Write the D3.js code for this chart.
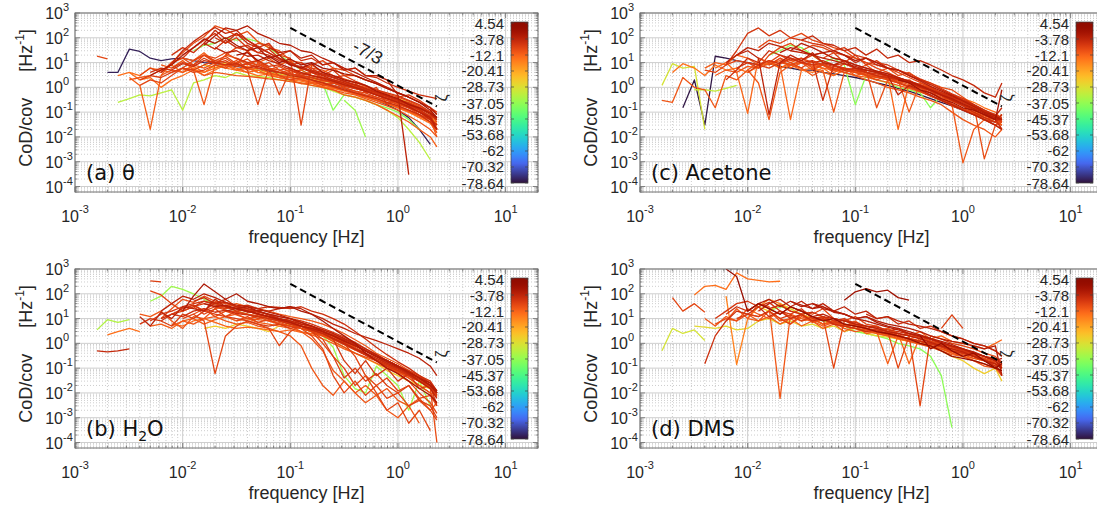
<!DOCTYPE html>
<html>
<head>
<meta charset="utf-8">
<script src="https://cdn.jsdelivr.net/npm/d3@7"></script>
<style>
  body { margin: 0; background: #fff; }
  svg { display: block; font-family: "Liberation Sans", Arial, sans-serif; }
</style>
</head>
<body>
<script>
// frequency bins [Hz], one value per bin, each spectrum starts at bin index "start"
var freqs = [0.0016,0.002,0.0025,0.0032,0.004,0.005,0.0063,0.0079,0.01,0.0126,0.0158,0.02,0.025,0.0316,0.04,0.05,0.063,0.079,0.1,0.126,0.158,0.2,0.25,0.316,0.4,0.5,0.63,0.79,1,1.26,1.58,2,2.3];

var zetaTicks = [4.54,-3.78,-12.1,-20.41,-28.73,-37.05,-45.37,-53.68,-62,-70.32,-78.64];
var xTickExp = [-3,-2,-1,0,1];
var yTickExp = [3,2,1,0,-1,-2,-3,-4];
var refFreq = [0.1, 2.3];
var refVal = [250, 0.17];

// (a) theta
var thetaStart = [6,7,5,4,1,3,2,9,8,4,10,12,6,3,8,11,14,16,20,2,0,23,9,13,7,5,9,11,6,13,8,10,4,7,12,3];
var thetaZeta = [-5,-10,-2,-8,-77,-12,-33,-38,-7,-9,-3,-9,-11,-11,-9,-6,-12,-4,-8,-14,-9,-36,-26,-1,-8,-6,-9,-4,-11,-7,-13,-5,-9,-6,-10,-14];
var thetaSpec = [
  [4,9,30,70,140,260,150,200,80,45,25,14,8,7,4.5,3.5,2.6,1.8,1.3,0.9,0.65,0.45,0.32,0.22,0.14,0.08,0.05],
  [10,25,60,110,300,220,120,180,70,40,30,12,10,6,5,3,2.2,1.6,1.1,0.8,0.55,0.4,0.28,0.18,0.1,0.04],
  [3,5,8,20,40,90,60,100,50,30,40,15,20,8,6,9,4,3,2,1.6,1.2,0.7,0.5,0.35,0.2,0.15,0.09,0.06],
  [2,3,2.5,4,6,5,8,12,10,7,9,6,5,4,3.5,3,2.5,2,1.6,1.2,0.9,0.7,0.5,0.35,0.25,0.15,0.1,0.07,0.05],
  [4,4,35,28,15,12,14,15,12,10,9,8,7,6,5,4.5,3.5,3,2.5,2,1.5,1.2,0.9,0.6,0.45,0.3,0.2,0.12,0.06,0.02,0.005],
  [2.5,1.2,0.02,3,10,15,12,25,10,8,6,4,5,3,2.5,2,1.4,1.5,1,0.8,0.5,0.4,0.3,0.2,0.12,0.07,0.04,0.02,0.01,0.004],
  [0.25,0.35,0.5,0.45,0.6,0.8,0.12,1.5,2,3,2.5,4,3,2.8,2.5,2,1.8,1.5,1.2,1,0.7,0.5,0.4,0.3,0.2,0.12,0.06,0.02,0.006,0.0012],
  [30,50,60,100,80,90,70,40,20,10,5,3,1.5,0.12,0.5,0.4,0.3,0.2,0.15,0.1,0.05,0.02],
  [15,40,80,150,60,100,40,25,35,15,8,10,5,4,2.5,3,1.8,1.2,0.8,0.6,0.45,0.3,0.2,0.1,0.05],
  [1.2,2,1.5,3,6,4,5,8,6,10,5,0.2,6,3,2,2.5,2,1.2,1.5,1,0.7,0.6,0.4,0.3,0.2,0.15,0.08,0.05,0.03],
  [50,120,250,200,300,150,100,60,50,30,25,15,10,6,4,2.5,1.6,1,0.6,0.4,0.25,0.15,0.08],
  [20,40,30,60,50,20,15,0.03,8,12,6,5,3,2,1.4,0.9,0.6,0.4,0.25,0.15,0.08],
  [8,6,12,5,0.2,8,20,15,8,12,6,4,5,3,2.5,1.8,2,1.2,0.9,0.7,0.5,0.35,0.25,0.18,0.12,0.05,0.01],
  [2,2.5,3,5,4,6,5,3,4,3.5,3,2.8,2.5,2.2,2,1.7,1.5,1.2,1,0.8,0.6,0.5,0.35,0.25,0.18,0.12,0.07,0.04,0.02,0.01],
  [6,12,20,10,15,8,30,10,6,0.5,5,3,4,2.5,2,1.5,1.3,1,0.7,0.5,0.3,0.2,0.12,0.05,0.02],
  [100,60,150,80,40,60,20,30,12,15,8,10,5,6,3,2.5,1.5,1,0.7,0.5,0.4,0.35],
  [30,10,15,8,12,5,8,4,6,3,3,2,1.4,1,0.6,0.4,0.25,0.15,0.03],
  [40,25,30,15,20,8,10,5,6,3,3,2,0.5,0.0003],
  [6,3,5,2,1.5,0.6,1,0.2,0.4,0.5,0.3,0.15,0.1],
  [3,4,2,2.5,1,2,3,5,4,8,6,5,4,3,3.5,2.5,2,1.8,1.4,1.1,0.9,0.7,0.55,0.4,0.3,0.22,0.15,0.1,0.07,0.04,0.02],
  [18,14],
  [0.3,0.12,0.01],
  [5,8,6,10,8,6,5,4,3.5,3,2.5,2.2,1.8,1.5,1.2,1,0.8,0.6,0.45,0.35,0.25,0.15,0.08,0.03],
  [20,25,12,18,10,14,8,10,6,5,3.5,3,2,1.4,0.9,0.6,0.4,0.25,0.12,0.06],
  [6,10,8,15,9,12,7,9,6,5,4,3.5,3,2.4,1.9,1.5,1.1,0.9,0.7,0.55,0.42,0.32,0.24,0.16,0.1,0.06],
  [4,6,5,9,7,12,10,8,9,6,7,5,4,3,2.6,2,1.5,1.1,0.8,0.6,0.45,0.35,0.25,0.18,0.12,0.08,0.04,0.02],
  [12,20,15,25,14,10,8,6,5,3.5,2.8,2,1.6,1.2,0.9,0.7,0.5,0.4,0.3,0.22,0.15,0.1,0.06,0.03],
  [40,25,30,18,20,12,9,6,4,3,2.4,1.8,1.3,1,0.7,0.5,0.35,0.25,0.17,0.1,0.06,0.02],
  [3,5,4,8,6,10,7,9,5,6,4,3,2.5,2,1.6,1.3,1,0.75,0.55,0.4,0.3,0.22,0.16,0.11,0.07,0.04,0.015],
  [15,10,12,7,8,5,3.5,3,2.2,1.7,1.3,0.9,0.7,0.5,0.38,0.28,0.2,0.12,0.07,0.02],
  [5,7,4,6,8,5,6,4,3.5,3,2.5,2,1.6,1.3,1,0.8,0.6,0.45,0.35,0.25,0.18,0.12,0.08,0.05,0.02],
  [60,200,90,150,60,40,25,15,10,6,4,3,2,1.5,1,0.75,0.5,0.35,0.25,0.16,0.1,0.05,0.03],
  [3,6,4,10,15,8,20,12,18,9,14,7,10,5,6,3.5,4,2.5,2,1.4,1.1,0.8,0.6,0.45,0.32,0.22,0.15,0.1,0.06],
  [20,40,25,60,35,80,40,50,25,20,12,9,6,4.5,3.2,2.4,1.7,1.2,0.85,0.6,0.42,0.3,0.2,0.13,0.06,0.02],
  [8,12,6,9,5,7,4,5,3,2.5,2,1.5,1.2,0.9,0.6,0.45,0.3,0.2,0.14,0.09,0.02],
  [4,3,6,5,8,4,6,3,5,8,5,7,4,3.5,3,2.6,2.2,1.8,1.4,1,0.8,0.6,0.45,0.3,0.22,0.15,0.1,0.06,0.035,0.015]
];

// (b) H2O
var waterStart = [5,6,4,5,0,1,0,5,5,8,7,6,4,9,12,7,10,14,16,11,8,18,13,20,6,8,10,7,12,9,15,5,4,9,6,13];
var waterZeta = [-7,-10,-4,-36,-34,-14,-5,-8,-9,-2,-11,-8,-11,-6,-4,-13,-26,-9,-11,-7,-9,-9,-3,-10,-6,-9,-3,-8,-11,-5,-7,-12,-7,-10,-4,-9];
var waterSpec = [
  [8,15,20,30,40,50,35,30,25,20,15,12,9,7,5,4,3,2.2,1.3,0.8,0.5,0.3,0.2,0.12,0.08,0.05,0.03,0.012],
  [10,25,60,45,80,50,40,30,25,20,14,10,8,6,4.5,3,2,1.2,0.6,0.35,0.2,0.12,0.07,0.04,0.02,0.01,0.004],
  [12,5,18,10,30,25,20,60,30,25,20,15,12,10,8,6,5,3.5,2.5,1.5,0.9,0.5,0.3,0.2,0.12,0.06,0.03,0.015,0.006],
  [50,80,200,150,100,60,40,30,20,15,12,10,8,6,4,3,2,0.7,0.05,0.015,0.01,0.12,0.05,0.02,0.002,0.03,0.003],
  [3.5,9,7,9],
  [2.2,3,4,3],
  [0.5,0.45,0.5,0.6],
  [330,300],
  [130,90,40,20,30,15,25,12,20,15,10,12,8,6,5,4,2.5,2,1.2,0.6,0.4,0.2,0.12,0.06,0.03,0.01,0.004,0.0015],
  [20,80,250,120,60,100,50,40,30,25,30,20,15,8,4,2,1,0.4,0.2,0.1,0.06,0.03,0.015,0.008,0.004],
  [5,8,6,10,12,8,6,7,5,4,3,2,0.8,0.1,0.02,0.008,0.03,0.01,0.004,0.008,0.002,0.001,0.003,0.0006],
  [8,5,15,10,20,15,12,10,8,6,5,6,4,5,3,1.5,0.3,0.04,0.1,0.03,0.06,0.02,0.01,0.02,0.005,0.003,0.001],
  [15,12,20,8,4,12,10,25,30,40,30,25,20,15,12,10,8,6,4,2.5,1.4,0.8,0.4,0.25,0.15,0.08,0.04,0.02,0.01],
  [30,50,40,60,30,35,25,30,28,25,30,20,15,10,6,3,1.5,0.7,0.35,0.18,0.1,0.05,0.025,0.01],
  [20,25,18,22,20,25,30,25,15,10,6,4,2.5,1.8,1.3,0.9,0.6,0.4,0.25,0.12,0.05],
  [6,5,8,10,7,5,4,4.5,4,3.5,3,3.5,2.8,2.5,2,1.5,1,0.6,0.35,0.2,0.12,0.07,0.04,0.02,0.01,0.008],
  [4,5,4,6,5,4,3,5,6,4,3,2,1.2,0.7,0.4,0.25,0.15,0.08,0.05,0.03,0.02,0.015,0.01],
  [20,15,10,8,6,4,2,0.6,0.05,0.01,0.03,0.008,0.02,0.006,0.01,0.003,0.005,0.002,0.0008],
  [8,6,5,3,1.5,0.5,0.08,0.03,0.01,0.02,0.008,0.015,0.005,0.003,0.006,0.002,0.004],
  [40,30,20,25,15,12,8,10,6,5,3,1.5,0.2,0.06,0.2,0.05,0.1,0.03,0.06,0.015,0.02,0.008],
  [10,15,8,0.06,2,5,8,6,4,0.8,3,5,4,3,2,1.2,0.8,0.5,0.3,0.15,0.08,0.05,0.03,0.015,0.008],
  [8,5,3,1,0.3,0.1,0.02,0.05,0.01,0.002,0.004,0.0006,0.002,0.0003],
  [25,30,20,15,12,10,7,5,3,2,1.2,0.8,0.5,0.3,0.2,0.12,0.07,0.04,0.02,0.01],
  [4,2,1.2,0.7,0.4,0.28,0.2,0.14,0.1,0.06,0.03,0.015,0.0001],
  [10,15,12,20,25,18,22,16,14,12,10,8,6,5,3.5,2.5,1.6,1,0.6,0.35,0.22,0.14,0.09,0.055,0.035,0.02,0.01],
  [25,35,20,30,22,18,15,13,10,8,6.5,5,4,3,2,1.2,0.7,0.4,0.25,0.15,0.1,0.06,0.04,0.02,0.008],
  [40,30,35,25,20,16,12,9,7,5,4,3,2,1.3,0.8,0.5,0.3,0.18,0.11,0.07,0.04,0.025,0.012],
  [15,20,30,40,30,25,30,20,15,12,8,7,5,4,3,2.2,1.4,0.9,0.5,0.3,0.2,0.12,0.07,0.045,0.025,0.012],
  [12,15,10,9,8,6,5,4,3.2,2.5,1.8,1.1,0.6,0.35,0.2,0.13,0.08,0.05,0.03,0.015,0.007],
  [50,70,40,45,30,25,20,14,10,7,5,3.5,2.5,1.6,1,0.6,0.4,0.25,0.16,0.1,0.06,0.04,0.02,0.01],
  [15,12,10,7,5,3.5,2.5,1.5,0.9,0.55,0.33,0.2,0.12,0.08,0.05,0.03,0.02,0.003],
  [5,6,4,8,10,6,9,12,8,10,7,6,5,4,3,2.2,1.5,1,0.6,0.4,0.25,0.16,0.1,0.07,0.045,0.03,0.018,0.01],
  [6,10,8,15,25,35,20,45,30,25,22,18,15,12,10,8,6,4,2.8,1.8,1.1,0.6,0.35,0.2,0.12,0.07,0.04,0.02,0.01],
  [15,25,12,20,14,10,12,8,7,5,4,3,2,1.4,0.9,0.55,0.35,0.2,0.12,0.08,0.05,0.03,0.018,0.008],
  [20,40,80,60,100,70,45,35,30,25,18,14,10,7,5,3.5,2.5,1.6,1,0.6,0.35,0.2,0.12,0.07,0.04,0.02,0.01],
  [8,12,7,9,6,5,4,3,2.2,1.6,1,0.3,0.05,0.02,0.04,0.012,0.02,0.006,0.008,0.003]
];

// (c) acetone
var acetoneStart = [0,0,2,6,4,5,7,9,13,1,3,10,12,8,15,18,11,20,16,22,14,6,7,9,11,5,14,8,6,10,4,13];
var acetoneZeta = [-11,-30,-78,-7,-9,-13,-4,-9,-5,-14,-32,-38,-3,-11,-8,-10,-10,-25,-5,-1,-9,-6,-7,-9,-3,-11,-6,-8,-4,-9,-12,-7];
var acetoneSpec = [
  [0.3,0.25,2.5,1,0.8,0.15,3,2,5,1.5,0.05,4,8,6,3,5,0.1,4,3,2,1.5,1,0.8,0.6,0.4,0.3,0.2,0.1,0.05,0.03,0.02,0.01,0.02],
  [1.2,9,6,7,0.02],
  [0.15,2,0.03,18,15,12,10,8,9,7,6,5,5,4,3.5,3,2.5,2,1.5,1.2,0.9,0.7,0.5,0.35,0.25,0.18,0.12,0.08,0.05,0.04,0.03],
  [8,30,150,250,120,200,100,80,60,50,30,40,20,15,10,8,5,3.5,2.2,1.5,0.9,0.55,0.35,0.2,0.12,0.08,0.06],
  [5,4,8,12,10,6,20,40,60,30,50,40,25,20,15,10,8,6,4,2.5,1.6,1,0.6,0.35,0.2,0.12,0.08,0.06,0.04],
  [6,10,4,0.09,15,10,8,0.05,5,6,4,3,5,4,3,2.5,3,0.02,1.5,1,0.8,0.5,0.35,0.2,0.15,0.1,0.06,0.03],
  [20,30,15,0.08,10,20,12,25,10,8,12,6,5,4,3,0.5,1.2,0.8,0.5,0.3,0.2,0.12,0.08,0.05,0.03,0.02],
  [40,80,60,100,150,80,60,40,30,15,10,6,4,2.5,1.6,1,0.6,0.35,0.22,0.14,0.1,0.07,0.05,0.04],
  [80,120,60,50,30,40,20,35,15,20,10,12,8,5,3,2,1.2,0.6,0.4,1.5],
  [4,9,6,3,8,5,6,4,7,10,6,8,5,4,6,3,5,4,3,2.5,3,2,1.5,1.2,1,0.6,0.5,0.35,0.25,0.15,0.1,0.05],
  [0.8,0.8,0.7,0.9,1.2],
  [20,30,50,40,20,10,15,8,0.2,3,2,1.5,1,0.8,0.6,0.15,0.5,0.3,0.2,0.15,0.1,0.05],
  [30,60,40,25,30,20,12,15,10,6,5,3,1.8,1.1,0.7,0.45,0.28,0.17,0.1,0.07,0.05],
  [5,10,8,15,6,10,5,8,4,6,3,4,2.5,3,2,0.1,1.5,1,0.5,0.2,0.0009,0.02,0.05,0.03,0.02],
  [15,25,10,20,8,12,6,5,3,2,1.3,0.8,0.5,0.3,0.18,0.11,0.07,0.05],
  [5,8,4,6,3,4,2,1.5,1,0.8,0.4,0.2,0.0013,0.03,0.05],
  [10,8,12,6,8,5,6,4,5,0.15,2,1.5,1.1,0.7,0.45,0.3,0.2,0.13,0.09,0.06,0.05,0.04],
  [3,2,2.5,1.5,1.2,0.8,0.5,0.3,0.2,0.12,0.06,0.04,0.08],
  [30,20,10,15,8,6,5,3,2,1.3,0.8,0.5,0.3,0.2,0.12,0.07,0.15],
  [2,1.5,0.8,0.6,0.35,0.25,0.15,0.12,0.08,0.05,0.8],
  [5,8,6,4,5,3,2,3,1.5,2,1,0.8,0.3,0.5,0.3,0.15,0.1,0.06,0.02],
  [2,5,15,10,30,20,15,10,12,0.3,8,5,6,4,3,2.5,2,1.5,1,0.8,0.6,0.4,0.3,0.2,0.1,0.05,0.02],
  [6,10,8,12,9,14,10,8,9,7,6,5,4,3.5,2.8,2.2,1.6,1.2,0.8,0.55,0.38,0.25,0.16,0.1,0.07,0.05],
  [15,10,20,12,15,10,8,6,5,4,3.2,2.6,2,1.5,1,0.7,0.45,0.3,0.2,0.13,0.08,0.05,0.03,0.04],
  [25,40,30,20,25,15,12,8,6,4.5,3.5,2.5,1.8,1.2,0.8,0.5,0.35,0.22,0.14,0.09,0.06,0.05],
  [3,5,4,7,6,9,12,8,10,7,8,6,5,4.5,3.5,3,2.4,1.8,1.3,0.9,0.6,0.4,0.28,0.18,0.12,0.08,0.06,0.04],
  [10,12,8,9,6,5,4,3,2.2,1.6,1.1,0.7,0.45,0.3,0.18,0.1,0.06,0.04,0.08],
  [4,8,6,10,15,12,20,10,8,6,5,4,3,2.2,1.6,1.1,0.7,0.45,0.3,0.18,0.12,0.08,0.05,0.04,0.08],
  [10,20,40,30,60,45,30,25,20,15,12,9,7,5,4,3,2.2,1.6,1.1,0.75,0.5,0.32,0.2,0.13,0.08,0.05,0.05],
  [8,15,10,6,12,8,5,9,6,4,3.5,3,2.4,1.8,1.3,0.9,0.6,0.4,0.25,0.16,0.1,0.07,0.04],
  [6,10,8,20,15,8,12,6,10,15,8,6,5,4,3,2.6,2,1.6,1.2,0.9,0.65,0.45,0.3,0.2,0.13,0.09,0.06,0.04,0.03],
  [30,20,25,15,12,8,6,4.5,3.5,2.5,1.8,1.3,0.9,0.6,0.4,0.25,0.15,0.1,0.08,0.05]
];

// (d) DMS
var dmsStart = [6,3,1,0,3,5,6,6,9,17,26,21,10,12,8,14,13,19,15,4,9,24,7,10,5,12,8,16,6,11,4,9];
var dmsZeta = [1,-14,-9,-30,-28,-7,-11,-16,-4,0,-8,-13,-38,-9,-12,-3,-13,-6,-9,-6,-26,1,-8,-4,-10,-3,-11,-7,-6,-9,-11,-3];
var dmsSpec = [
  [1000,500,20,40,25,15,30,20,12,8,10,6,5,4,3,2.5,2,1.5,1,0.8,0.5,0.3,0.25,0.2,0.15,0.1,0.08],
  [90,200,220,150,700,400,350,300,320],
  [70,20,40,18],
  [0.5,4,2.5,3.5,1.3],
  [5,4.5,4,5,3.5,4,8,10,6,8,5,6,4,5,3,4,2.5,2,1.8,1.5,1.2,1,0.8,0.6,0.5,0.4,0.3,0.2,0.15,0.1],
  [10,20,40,50,30,45,20,15,25,10,12,8,10,6,5,4,3,4,2.5,2,1.5,1,0.7,0.5,0.35,0.2,0.12,0.15],
  [8,25,10,40,30,0.006,15,10,8,12,6,5,8,4,3,4,2,1.5,1,0.8,0.6,0.4,0.3,0.2,0.12,0.1,0.05],
  [80,0.14,10,30,60,40,20,15,10,6,8,5,4,3,2.5,2,1.5,1.2,1,0.8,0.6,0.4,0.3,0.25,0.2,0.15,0.1],
  [20,40,60,30,50,25,40,20,30,15,20,10,12,8,6,5,4,3,2,1.5,1,0.8,0.5,0.3],
  [55,120,160,120,140,70,55],
  [4,14,4],
  [3,4,2,3,1.5,2,1.2,1,0.8,0.6,1,1.4],
  [20,30,25,15,10,8,6,5,3,2.5,2,1.5,1,0.8,0.6,0.3,0.05,0.0004],
  [30,20,15,25,10,8,12,6,5,3,0.1,2,0.003,2,1.5,1,0.8,0.6,0.4,0.3,0.15],
  [10,8,12,6,10,5,8,4,6,3,5,2.5,3,0.15,2,1.5,2,1.2,1,0.7,0.5,0.4,0.3,0.15,0.1],
  [40,30,20,15,10,12,8,6,5,4,3,2,1.5,1.2,1,0.8,0.6,0.8,0.05],
  [8,10,6,8,5,6,4,3,4,2.5,0.15,2,1.5,1,0.8,0.6,0.4,0.3,0.2,0.12],
  [15,10,12,6,8,4,5,3,2,1.5,1,0.8,0.5,0.3],
  [12,0.1,8,6,4,5,3,2,2.5,1.5,1.2,0.8,0.6,0.4,0.3,0.25,0.1,0.08],
  [0.15,2,8,20,15,30,12,20,10,15,8,10,6,5,4,3,3.5,2.5,2,1.5,1.2,1,0.8,0.5,0.4,0.3,0.2,0.12,0.06],
  [30,20,40,25,15,10,12,8,6,5,4,3,2.5,2,1.5,1.2,0.8,0.5,0.3,0.2,0.1,0.06,0.1,0.03],
  [2,0.6,1,0.5,0.3,0.4,0.2,0.1,0.15],
  [10,15,12,20,10,14,8,12,9,7,6,5,4,3.5,3,2.5,2,1.6,1.2,0.9,0.7,0.5,0.4,0.3,0.25,0.18],
  [25,15,30,20,12,15,10,8,6,5,4,3,2.5,2,1.5,1.1,0.8,0.6,0.45,0.3,0.2,0.15,0.1],
  [6,10,8,15,12,20,8,10,14,7,9,6,5,4,3.5,2.8,2.2,1.8,1.3,1,0.8,0.6,0.45,0.35,0.25,0.2,0.15,0.12],
  [50,30,40,25,20,15,10,12,7,5,4,3,2.2,1.6,1.2,0.9,0.6,0.4,0.3,0.2,0.1],
  [15,8,20,10,6,12,8,5,7,4,3,3.5,2.5,2,1.6,1.2,0.9,0.7,0.5,0.35,0.3,0.2,0.15,0.1,0.08],
  [8,6,5,4,3,2.5,2,1.5,1.2,0.9,0.7,0.5,0.4,0.3,0.22,0.16,0.05],
  [15,30,20,40,25,35,20,15,18,12,10,8,7,5,4.5,3.5,3,2.4,1.8,1.4,1,0.75,0.55,0.4,0.3,0.22,0.15],
  [10,6,15,8,12,6,9,5,4,3,2.5,2,1.6,1.3,1,0.8,0.6,0.45,0.35,0.25,0.18,0.12],
  [10,5,12,8,25,15,10,20,12,8,10,6,7,5,4,3.5,3,2.5,2,1.5,1.2,1,0.7,0.5,0.4,0.3,0.2,0.15,0.1],
  [40,60,30,50,35,25,30,18,15,10,8,6,4.5,3.5,2.5,2,1.5,1.1,0.8,0.6,0.45,0.3,0.2,0.25]
];

var panels = [
  {name: "(a) θ", left: 75, top: 13, start: thetaStart, zeta: thetaZeta, spec: thetaSpec, slopeText: true},
  {name: "(b) H", sub: "2", tail: "O", left: 75, top: 269, start: waterStart, zeta: waterZeta, spec: waterSpec},
  {name: "(c) Acetone", left: 640, top: 13, start: acetoneStart, zeta: acetoneZeta, spec: acetoneSpec},
  {name: "(d) DMS", left: 640, top: 269, start: dmsStart, zeta: dmsZeta, spec: dmsSpec}
];

var W = 1097, H = 509;
var PW = 463, PH = 179;

var svg = d3.select("body").append("svg").attr("width", W).attr("height", H);
var defs = svg.append("defs");

var x = d3.scaleLog().domain([1e-3, 20]).range([0, PW]);
var y = d3.scaleLog().domain([6e-5, 1e3]).range([PH, 0]);

// turbo colormap, with the dark-purple low end of the matlab version
var zToT = d3.scaleLinear().domain([-78.64, 4.54]).range([0, 1]).clamp(true);
var lowEnd = d3.interpolateRgb("#30123b", d3.interpolateTurbo(0.12));
function cmap(t) { return t < 0.12 ? lowEnd(t / 0.12) : d3.interpolateTurbo(t); }

var grad = defs.append("linearGradient").attr("id", "cbar")
  .attr("x1", 0).attr("y1", 1).attr("x2", 0).attr("y2", 0);
d3.range(0, 1.0001, 0.02).forEach(function(t) {
  grad.append("stop").attr("offset", t).attr("stop-color", cmap(t));
});

var line = d3.line().x(function(d) { return x(d[0]); }).y(function(d) { return y(d[1]); });

function isMajor(v) {
  var l = Math.log10(v);
  return Math.abs(l - Math.round(l)) < 1e-6;
}

panels.forEach(function(p, pi) {
  var g = svg.append("g").attr("transform", "translate(" + p.left + "," + p.top + ")");
  defs.append("clipPath").attr("id", "clip" + pi)
    .append("rect").attr("width", PW).attr("height", PH);

  var xt = x.ticks().filter(function(v) { return v >= 1e-3 && v <= 20; });
  var yt = y.ticks().filter(function(v) { return v >= 6e-5 && v <= 1e3; });

  // grid: minor dotted, major solid
  var grid = g.append("g");
  xt.forEach(function(v) {
    var m = isMajor(v);
    grid.append("line").attr("x1", x(v)).attr("x2", x(v)).attr("y1", 0).attr("y2", PH)
      .attr("stroke", m ? "#c8c8c8" : "#b8b8b8").attr("stroke-width", m ? 0.9 : 0.7)
      .attr("stroke-dasharray", m ? null : "1,2");
  });
  yt.forEach(function(v) {
    var m = isMajor(v);
    grid.append("line").attr("y1", y(v)).attr("y2", y(v)).attr("x1", 0).attr("x2", PW)
      .attr("stroke", m ? "#c8c8c8" : "#b8b8b8").attr("stroke-width", m ? 0.9 : 0.7)
      .attr("stroke-dasharray", m ? null : "1,2");
  });

  // spectra, coloured by zeta (low zeta drawn first)
  var order = d3.range(p.spec.length).sort(function(a, b) { return p.zeta[a] - p.zeta[b]; });
  var lines = g.append("g").attr("clip-path", "url(#clip" + pi + ")");
  order.forEach(function(i) {
    var pts = p.spec[i].map(function(v, j) { return [freqs[p.start[i] + j], v]; });
    lines.append("path").attr("d", line(pts))
      .attr("fill", "none").attr("stroke", cmap(zToT(p.zeta[i])))
      .attr("stroke-width", 1.3).attr("stroke-linejoin", "round");
  });

  // -7/3 reference slope
  var refPts = refFreq.map(function(f, i) { return [f, refVal[i]]; });
  g.append("path").attr("d", line(refPts)).attr("fill", "none")
    .attr("stroke", "#000").attr("stroke-width", 2).attr("stroke-dasharray", "7,4");

  if (p.slopeText) {
    var slope = Math.log(refVal[1] / refVal[0]) / Math.log(refFreq[1] / refFreq[0]);
    var fl = 0.45, vl = refVal[0] * Math.pow(fl / refFreq[0], slope);
    var ang = Math.atan2(y(refVal[1]) - y(refVal[0]), x(refFreq[1]) - x(refFreq[0])) * 180 / Math.PI;
    g.append("text")
      .attr("transform", "translate(" + x(fl) + "," + y(vl) + ") rotate(" + ang + ") translate(0,-9)")
      .attr("text-anchor", "middle").attr("font-size", 18).attr("fill", "#222").text("-7/3");
  }

  // box and inward ticks
  g.append("rect").attr("width", PW).attr("height", PH).attr("fill", "none")
    .attr("stroke", "#6e6e6e").attr("stroke-width", 1);
  var tk = g.append("g").attr("stroke", "#6e6e6e").attr("stroke-width", 0.8);
  xt.forEach(function(v) {
    var L = isMajor(v) ? 5 : 2.5;
    tk.append("line").attr("x1", x(v)).attr("x2", x(v)).attr("y1", PH).attr("y2", PH - L);
    tk.append("line").attr("x1", x(v)).attr("x2", x(v)).attr("y1", 0).attr("y2", L);
  });
  yt.forEach(function(v) {
    var L = isMajor(v) ? 5 : 2.5;
    tk.append("line").attr("y1", y(v)).attr("y2", y(v)).attr("x1", 0).attr("x2", L);
    tk.append("line").attr("y1", y(v)).attr("y2", y(v)).attr("x1", PW).attr("x2", PW - L);
  });

  // tick labels
  yTickExp.forEach(function(e) {
    var yy = y(Math.pow(10, e));
    g.append("text").attr("x", -12).attr("y", yy + 6).attr("text-anchor", "end")
      .attr("font-size", 16).attr("fill", "#262626").text("10");
    g.append("text").attr("x", -12).attr("y", yy - 2)
      .attr("font-size", 11).attr("fill", "#262626").text(e);
  });
  xTickExp.forEach(function(e) {
    var t = g.append("text").attr("x", x(Math.pow(10, e))).attr("y", PH + 30)
      .attr("text-anchor", "middle").attr("font-size", 16).attr("fill", "#262626");
    t.append("tspan").text("10");
    t.append("tspan").attr("dy", -9).attr("font-size", 11).text(e);
  });

  // axis titles
  g.append("text").attr("x", PW / 2).attr("y", PH + 51).attr("text-anchor", "middle")
    .attr("font-size", 18).attr("fill", "#262626").text("frequency [Hz]");
  var yl = g.append("text").attr("transform", "translate(-43," + 85 + ") rotate(-90)")
    .attr("text-anchor", "middle").attr("font-size", 18).attr("fill", "#262626");
  yl.append("tspan").text("CoD/cov");
  yl.append("tspan").attr("dx", 26).text("[Hz");
  yl.append("tspan").attr("dy", -8).attr("font-size", 12).text("-1");
  yl.append("tspan").attr("dy", 8).text("]");

  // panel label
  var pl = g.append("text").attr("x", 11).attr("y", 167)
    .attr("font-family", "'DejaVu Sans', sans-serif").attr("font-size", 21).attr("fill", "#111");
  pl.append("tspan").text(p.name);
  if (p.sub) {
    pl.append("tspan").attr("dy", 5).attr("font-size", 14).text(p.sub);
    pl.append("tspan").attr("dy", -5).text(p.tail);
  }

  // colorbar
  var cbX = 436, cbW = 17, cbTop = 9, cbBot = 170;
  var cbY = d3.scaleLinear().domain([-78.64, 4.54]).range([cbBot, cbTop + 1]);
  g.append("rect").attr("x", cbX).attr("y", cbTop).attr("width", cbW).attr("height", cbBot - cbTop)
    .attr("fill", "url(#cbar)").attr("stroke", "#444").attr("stroke-width", 0.7);
  zetaTicks.forEach(function(v) {
    g.append("line").attr("x1", cbX).attr("x2", cbX + 3).attr("y1", cbY(v)).attr("y2", cbY(v))
      .attr("stroke", "#444").attr("stroke-width", 0.7);
    g.append("line").attr("x1", cbX + cbW - 3).attr("x2", cbX + cbW).attr("y1", cbY(v)).attr("y2", cbY(v))
      .attr("stroke", "#444").attr("stroke-width", 0.7);
    g.append("text").attr("x", cbX - 7).attr("y", cbY(v) + 5.5).attr("text-anchor", "end")
      .attr("font-size", 15).attr("fill", "#262626").text(v);
  });
  g.append("text").attr("transform", "translate(372,85) rotate(-90)")
    .attr("text-anchor", "middle").attr("font-size", 16).attr("fill", "#262626").text("ζ");
});
</script>
</body>
</html>
